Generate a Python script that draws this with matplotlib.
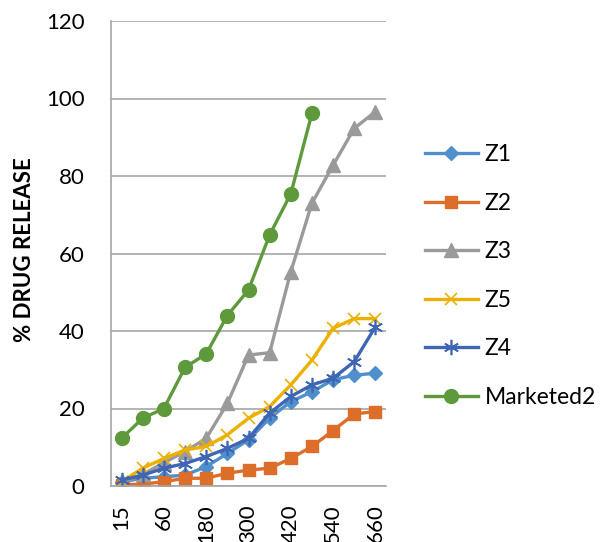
import matplotlib
matplotlib.use("Agg")
import matplotlib.pyplot as plt

plt.rcParams['font.family'] = ['Lato', 'DejaVu Sans']

# ===== data (time in minutes, % drug release)
times = [15, 30, 60, 120, 180, 240, 300, 360, 420, 480, 540, 600, 660]
z1 = [1.1, 2.0, 2.4, 2.8, 5.0, 8.4, 11.9, 17.5, 21.8, 24.3, 27.4, 28.6, 29.1]
z2 = [0.3, 0.5, 1.1, 2.0, 2.0, 3.3, 4.1, 4.6, 7.1, 10.2, 14.3, 18.6, 19.2]
z3 = [1.0, 3.0, 6.0, 8.9, 12.3, 21.3, 33.8, 34.4, 55.3, 73.0, 82.8, 92.3, 96.6]
z5 = [1.1, 4.6, 7.1, 9.3, 10.2, 13.2, 17.5, 20.5, 26.1, 32.5, 40.7, 43.2, 43.2]
z4 = [1.5, 2.8, 4.6, 5.8, 7.6, 9.7, 12.3, 18.8, 23.1, 26.1, 27.8, 32.1, 41.1]
marketed2 = [12.3, 17.5, 20.0, 30.6, 34.1, 44.0, 50.6, 64.8, 75.4, 96.2]

fig = plt.figure(figsize=(6.08, 5.42), dpi=100)
ax = fig.add_axes([111 / 608, 1 - 486 / 542, 275 / 608, 465 / 542])

x = list(range(len(times)))
lw = 2.4
ax.plot(x, z1, color='#4F8FCB', lw=lw, marker='D', ms=7, label='Z1')
ax.plot(x, z2, color='#DC6E2A', lw=lw, marker='s', ms=9, label='Z2')
ax.plot(x, z3, color='#9A9A9A', lw=lw, marker='^', ms=10, label='Z3')
ax.plot(x, z5, color='#EBB000', lw=lw, marker='x', ms=9, mew=1.2, label='Z5')
ax.plot(x, z4, color='#3E66B4', lw=lw, marker=(6, 2, 0), ms=11, mew=1.2, label='Z4')
ax.plot(x[:len(marketed2)], marketed2, color='#5E9A3C', lw=lw, marker='o', ms=10,
        label='Marketed2')

ax.set_xlim(-0.5, len(times) - 0.5)
ax.set_ylim(0, 120)
ax.set_yticks(range(0, 121, 20))
ax.set_xticks(x[::2])
ax.set_xticklabels([str(t) for t in times[::2]], rotation=90, va='top', ha='center')
ax.tick_params(axis='both', length=0, labelsize=16, colors='#000000')
ax.tick_params(axis='y', pad=19)
ax.tick_params(axis='x', pad=13)

ax.grid(axis='y', color='#A6A6A6', lw=1.2)
ax.set_axisbelow(True)
for s in ['top', 'right']:
    ax.spines[s].set_visible(False)
ax.spines['left'].set_color('#A6A6A6')
ax.spines['bottom'].set_color('#A6A6A6')
ax.spines['left'].set_linewidth(1.2)
ax.spines['bottom'].set_linewidth(1.2)

fig.text(25 / 608, 1 - 250 / 542, '% DRUG RELEASE', rotation=90, ha='center', va='center',
         fontsize=16, fontweight='bold')

fig.legend(loc='center left', bbox_to_anchor=(425 / 608, 1 - 276 / 542), frameon=False,
           fontsize=16.5, handlelength=2.3, handletextpad=0.3, labelspacing=1.2,
           borderpad=0, borderaxespad=0)

fig.savefig('out.png', dpi=100)
